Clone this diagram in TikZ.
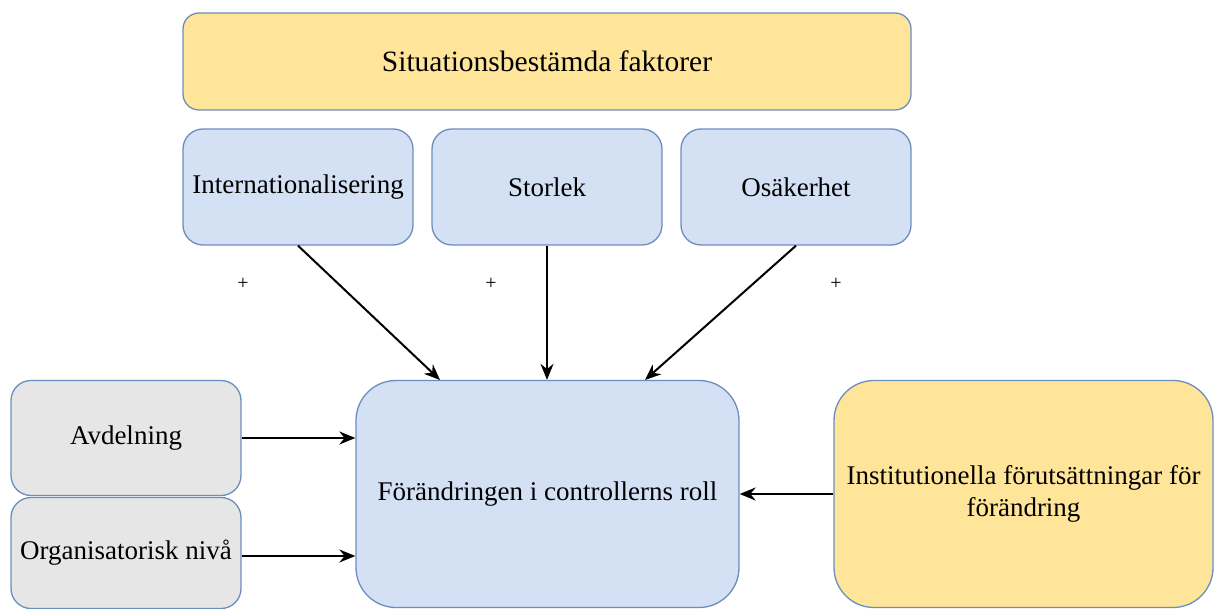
\documentclass[tikz,border=0pt]{standalone}
\usepackage{fontspec}
\setmainfont{Liberation Serif}
\usetikzlibrary{arrows.meta}
\definecolor{boxyellow}{HTML}{FFE599}
\definecolor{boxblue}{HTML}{D4E1F5}
\definecolor{boxgray}{HTML}{E6E6E6}
\definecolor{boxline}{HTML}{6C8EBF}
\tikzset{
  box/.style={draw=boxline, line width=1.3pt, align=center, inner sep=2pt,
    font=\fontsize{27}{32}\selectfont},
  yel/.style={box, fill=boxyellow},
  blu/.style={box, fill=boxblue},
  gry/.style={box, fill=boxgray},
  arr/.style={line width=2pt, -{Stealth[length=16pt,width=13pt]}},
  plus/.style={font=\fontsize{20}{24}\selectfont, inner sep=0pt}
}
\begin{document}
\begin{tikzpicture}[x=1pt,y=-1pt]
\useasboundingbox (0,0) rectangle (1215,609);
\fill[white] (0,0) rectangle (1215,609);
\begin{scope}
\clip (0,0) rectangle (1215,609);
\node[yel, rounded corners=16pt, minimum width=728pt, minimum height=97pt, font=\fontsize{29.5}{34}\selectfont] (sit) at (547,61.5) {Situationsbestämda faktorer};
\node[blu, rounded corners=20pt, minimum width=230pt, minimum height=116pt] (int) at (298,187) {Internationalisering};
\node[blu, rounded corners=20pt, minimum width=230pt, minimum height=116pt] (sto) at (547,187) {Storlek};
\node[blu, rounded corners=20pt, minimum width=230pt, minimum height=116pt] (osa) at (796,187) {Osäkerhet};
\node[blu, rounded corners=40pt, minimum width=383pt, minimum height=227pt] (ctr) at (547.5,494) {Förändringen i controllerns roll};
\node[gry, rounded corners=20pt, minimum width=230pt, minimum height=115pt] (avd) at (126,438) {Avdelning};
\node[gry, rounded corners=20pt, minimum width=230pt, minimum height=111pt] (org) at (126,553) {Organisatorisk nivå};
\node[yel, rounded corners=40pt, minimum width=379pt, minimum height=227pt] (ins) at (1023.5,494) {Institutionella förutsättningar för\\förändring};
\end{scope}
\node[plus] (p1) at (243,284) {+};
\node[plus] (p2) at (491,284) {+};
\node[plus] (p3) at (836,284) {+};
\coordinate (intend) at (440,380);
\coordinate (osaend) at (645,380);
\draw[arr] (int.south) -- (intend);
\draw[arr] (sto.south) -- (sto.south |- ctr.north);
\draw[arr] (osa.south) -- (osaend);
\draw[arr] (avd.east) -- (avd.east -| ctr.west);
\draw[arr] (org.east) ++(0,3) coordinate (orge) -- (orge -| ctr.west);
\draw[arr] (ins.west) -- (ctr.east);
\end{tikzpicture}
\end{document}
